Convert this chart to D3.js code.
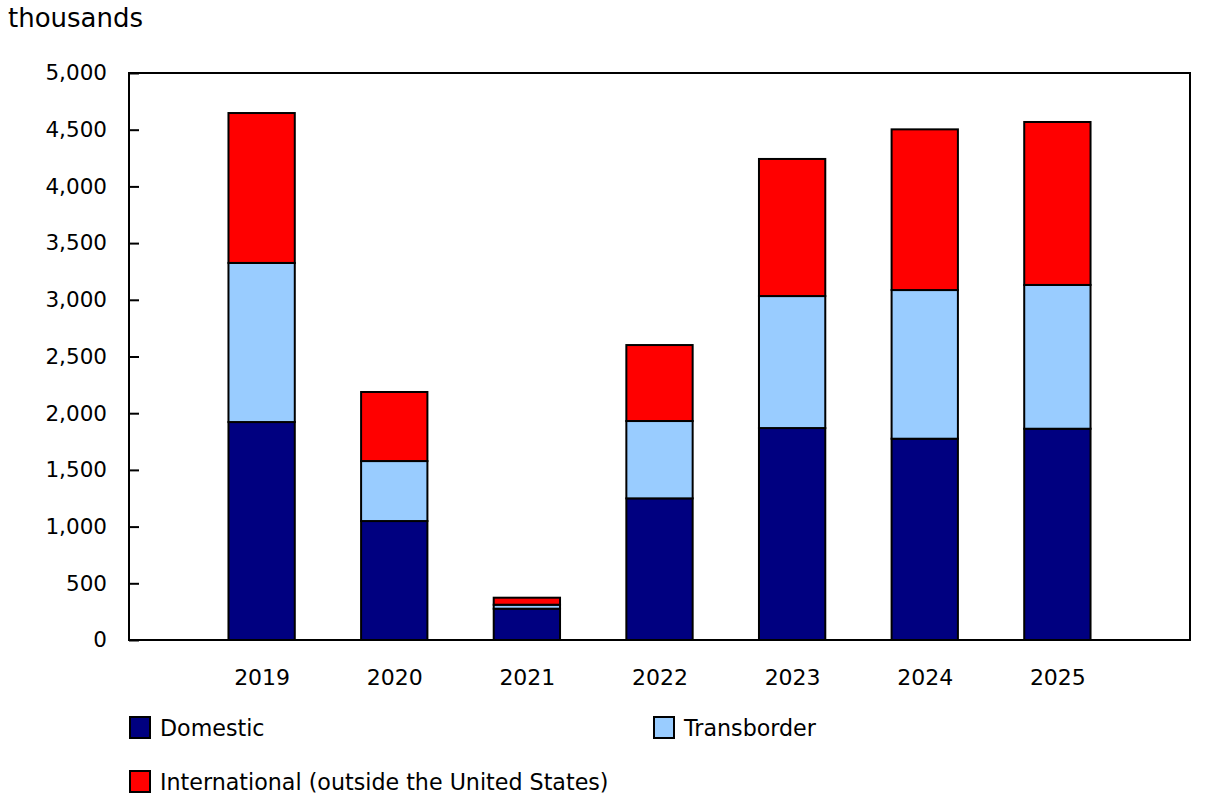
<!DOCTYPE html>
<html><head><meta charset="utf-8">
<script src="https://cdn.jsdelivr.net/npm/d3@7"></script>
<style>body{margin:0;background:#fff;} text{font-family:"DejaVu Sans",Verdana,sans-serif;fill:#000;}</style>
</head><body>
<svg id="c" width="1225" height="803"></svg>
<script>
const years = ["2019","2020","2021","2022","2023","2024","2025"];
const domestic = [1922, 1049, 276, 1249, 1869, 1775, 1863];
const transborder = [1403, 529, 35, 682, 1164, 1311, 1268];
const international = [1322, 609, 62, 670, 1209, 1417, 1437];
const seriesNames = ["Domestic","Transborder","International (outside the United States)"];
const seriesColors = ["#000080","#99ccff","#ff0000"];
const yTicks = [0,500,1000,1500,2000,2500,3000,3500,4000,4500,5000];

const svg = d3.select("#c");
const L = 129, R = 1190, T = 73, B = 640;
const x = d3.scalePoint().domain(years).range([L, R]).padding(1);
const y = d3.scaleLinear().domain([0, 5000]).range([B, T]);
const bw = x.step() * 0.5;

const table = years.map((yr, i) => ({year: yr, Domestic: domestic[i], Transborder: transborder[i], "International (outside the United States)": international[i]}));
const stack = d3.stack().keys(seriesNames)(table);

// bars
svg.append("g").selectAll("g").data(stack).join("g")
  .attr("fill", (d, i) => seriesColors[i])
  .selectAll("rect").data(d => d).join("rect")
  .attr("x", d => x(d.data.year) - bw / 2)
  .attr("width", bw)
  .attr("y", d => y(d[1]))
  .attr("height", d => y(d[0]) - y(d[1]))
  .attr("stroke", "#000").attr("stroke-width", 2);

// frame
svg.append("rect").attr("x", L).attr("y", T).attr("width", R - L).attr("height", B - T)
  .attr("fill", "none").attr("stroke", "#000").attr("stroke-width", 2);

// y axis
const yAxis = d3.axisLeft(y).tickValues(yTicks).tickSize(-10).tickPadding(22)
  .tickFormat(d3.format(","));
const ga = svg.append("g").attr("transform", `translate(${L},0)`).call(yAxis);
ga.select(".domain").remove();
ga.selectAll(".tick line").attr("stroke", "#000").attr("stroke-width", 2);
ga.selectAll("text").style("font-size", "21.5px").attr("fill", "#000").attr("font-family", null);

// x axis labels
const xAxis = d3.axisBottom(x).tickSize(0).tickPadding(29);
const gx = svg.append("g").attr("transform", `translate(0,${B})`).call(xAxis);
gx.select(".domain").remove();
gx.selectAll("text").style("font-size", "22px").attr("fill", "#000").attr("font-family", null);

// unit label
svg.append("text").attr("x", 8).attr("y", 27).style("font-size", "26px").text("thousands");

// legend
const legendPos = [[130, 717], [654, 717], [130, 771]];
const lg = svg.append("g").selectAll("g").data(seriesNames).join("g")
  .attr("transform", (d, i) => `translate(${legendPos[i][0]},${legendPos[i][1]})`);
lg.append("rect").attr("width", 20).attr("height", 21).attr("fill", (d, i) => seriesColors[i])
  .attr("stroke", "#000").attr("stroke-width", 2);
lg.append("text").attr("x", 30).attr("y", 19).style("font-size", "22.2px").text(d => d);
</script>
</body></html>
